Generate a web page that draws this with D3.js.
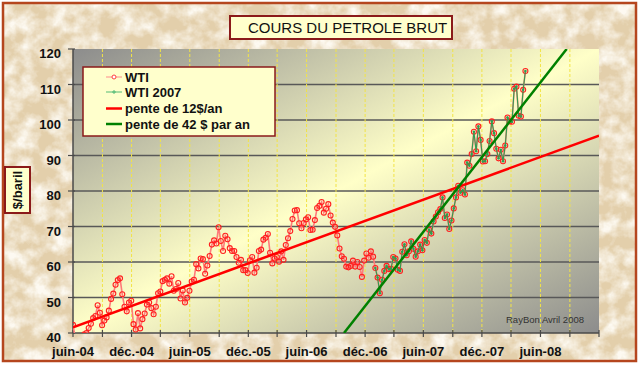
<!DOCTYPE html>
<html><head><meta charset="utf-8">
<script src="https://cdn.jsdelivr.net/npm/d3@7"></script>
<style>
body{margin:0;background:#fff;}
svg{display:block;}
text{font-family:"Liberation Sans",Arial,sans-serif;}
</style>
</head><body>
<svg id="chart" width="640" height="366"></svg>
<script>
// ---------------- DATA ----------------
const title = "COURS DU PETROLE BRUT";
const yAxisTitle = "$/baril";
const credit = "RayBon Avril 2008";
// WTI weekly readings (every Tuesday, starting 2004-06-01), $/baril
const wtiStart = "2004-06-01";
const wti2004 = [42.3,38.5,37.6,38.0,36.9, 39.6,40.0,41.4,42.6, 44.2,44.8,47.8,45.7,42.2,
  43.5,44.4,46.3,49.6, 51.1,53.6,54.9,55.4, 50.9,47.4,46.1,48.6,49.1, 42.5,41.0,45.6,41.3];
const wti2005 = [43.9,45.5,48.0,48.6, 47.0,45.3,47.4,51.2, 51.7,54.6,55.0,55.4,53.9,
  56.0,51.9,52.4,54.1, 49.7,52.0,48.6,49.9,51.9, 54.5,55.0,59.4,58.2, 61.0,60.8,56.7,59.0,
  61.7,64.9,66.1,65.2,69.8, 65.9,63.1,67.4,66.4, 63.9,63.1,63.1,61.4, 59.8,60.6,57.7,57.7,56.9,
  60.5,61.4,57.0,58.4];
const wti2006 = [63.1,63.5,66.3,66.8,67.9, 62.6,59.6,61.0,61.4, 60.1,63.0,60.6,64.8,
  66.7,68.7,72.1,74.5, 74.6,70.9,69.5,71.0,72.0, 72.6,69.0,69.1,71.8, 75.2,75.8,76.9,73.9,
  75.0,76.3,73.1,71.1,69.9, 67.5,63.8,61.6,60.9, 58.7,58.5,58.9,60.4,58.7, 60.0,58.6,55.8,60.4,
  62.4,61.2,63.0,61.5];
const wti2007 = [58.3,55.6,51.2,55.0,57.5, 58.9,58.0,58.1,61.4, 61.0,57.8,57.5,62.9,
  65.0,61.9,63.0,65.8, 63.7,61.5,63.0,64.9,63.3, 66.2,65.4,69.1,68.0, 71.4,72.8,74.0,74.9,78.2,
  72.4,73.4,69.3,71.7, 75.1,78.2,81.5,79.5, 80.2,79.0,88.0,87.1,90.4, 96.7,91.2,98.2,94.4,
  88.3,88.4,90.4,94.1];
const wti2008 = [99.6,96.3,91.9,89.2,91.6, 88.4,92.8,100.7,99.6, 99.5,108.8,109.4,101.2,
  101.0,108.5,113.8];
const wti2007SeriesStart = "2007-01-01";
// trend lines
const trend12Dates = ["2004-06-01","2008-12-01"], trend12Values = [41.6,95.6];
const trend42Dates = ["2006-09-26","2008-08-22"], trend42Values = [40,120];
// axes
const xDomain = ["2004-06-01","2008-12-01"];
const yTicks = [40,50,60,70,80,90,100,110,120];
const xTickLabels = ["juin-04","déc.-04","juin-05","déc.-05","juin-06","déc.-06","juin-07","déc.-07","juin-08"];
const legendLabels = ["WTI","WTI 2007","pente de 12$/an","pente de 42 $ par an"];

// ---------------- BUILD ----------------
const parse = d3.timeParse("%Y-%m-%d");
const svg = d3.select("#chart");
const P = {l:73, r:599, t:49, b:333};
const x = d3.scaleTime().domain(xDomain.map(parse)).range([P.l,P.r]);
const y = d3.scaleLinear().domain([40,120]).range([P.b,P.t]);

const allVals = [...wti2004,...wti2005,...wti2006,...wti2007,...wti2008];
const s0 = parse(wtiStart);
const wti = allVals.map((v,i)=>({d:d3.timeDay.offset(s0,7*i), v}));
const wti07 = wti.filter(p=>p.d>=parse(wti2007SeriesStart));

const defs = svg.append("defs");
// paper texture
const f = defs.append("filter").attr("id","paper").attr("x",0).attr("y",0).attr("width","100%").attr("height","100%");
f.append("feTurbulence").attr("type","fractalNoise").attr("baseFrequency","0.06").attr("numOctaves",4).attr("seed",11);
f.append("feColorMatrix").attr("type","matrix")
 .attr("values","0 0 0 0 0.98  0 0 0 0 0.95  0 0 0 0 0.88  2.2 0 0 0 -0.75");
const g = defs.append("linearGradient").attr("id","plotbg").attr("x1",0).attr("y1",0).attr("x2",1).attr("y2",1);
g.append("stop").attr("offset","0").attr("stop-color","#8c8c8c");
g.append("stop").attr("offset","0.5").attr("stop-color","#ffffc8");
g.append("stop").attr("offset","1").attr("stop-color","#8c8c8c");
defs.append("clipPath").attr("id","clip").append("rect")
  .attr("x",P.l).attr("y",P.t).attr("width",P.r-P.l).attr("height",P.b-P.t);

// background
svg.append("rect").attr("width",640).attr("height",366).attr("fill","#ffffff");
svg.append("rect").attr("x",3).attr("y",3).attr("width",633).attr("height",358).attr("fill","#e3cfab");
svg.append("rect").attr("x",3).attr("y",3).attr("width",633).attr("height",358).attr("filter","url(#paper)");
svg.append("rect").attr("x",3).attr("y",3).attr("width",633).attr("height",358)
  .attr("fill","none").attr("stroke","#b5461e").attr("stroke-width",2.5);

// plot area
svg.append("rect").attr("x",P.l).attr("y",P.t).attr("width",P.r-P.l).attr("height",P.b-P.t).attr("fill","url(#plotbg)");

// horizontal gridlines
svg.append("g").selectAll("line").data(yTicks.filter(v=>v>40&&v<120)).join("line")
  .attr("x1",P.l).attr("x2",P.r).attr("y1",d=>y(d)).attr("y2",d=>y(d))
  .attr("stroke","#585858").attr("stroke-width",1.6);

// x ticks dates
const tickDates = d3.timeMonth.range(parse(xDomain[0]), d3.timeDay.offset(parse(xDomain[1]),1), 3);
svg.append("g").selectAll("line").data(tickDates.slice(1,-1)).join("line")
  .attr("x1",d=>x(d)).attr("x2",d=>x(d)).attr("y1",P.t).attr("y2",P.b)
  .attr("stroke","#f2e446").attr("stroke-width",1).attr("stroke-dasharray","3,2");

// axes
const axisCol = "#4a4a4a";
svg.append("line").attr("x1",P.l).attr("x2",P.l).attr("y1",P.t).attr("y2",P.b).attr("stroke",axisCol).attr("stroke-width",1.5);
svg.append("line").attr("x1",P.l).attr("x2",P.r).attr("y1",P.b).attr("y2",P.b).attr("stroke",axisCol).attr("stroke-width",1.5);
svg.append("g").selectAll("line").data(yTicks).join("line")
  .attr("x1",P.l-5).attr("x2",P.l+2).attr("y1",d=>y(d)).attr("y2",d=>y(d)).attr("stroke",axisCol).attr("stroke-width",1.2);
svg.append("g").selectAll("text").data(yTicks).join("text")
  .attr("x",P.l-12).attr("y",d=>y(d)+9).attr("text-anchor","end")
  .attr("font-size",13).attr("font-weight","bold").attr("fill","#111").text(d=>d);
svg.append("g").selectAll("line").data(tickDates).join("line")
  .attr("x1",d=>x(d)).attr("x2",d=>x(d)).attr("y1",P.b-3).attr("y2",P.b+4).attr("stroke",axisCol).attr("stroke-width",1.2);
svg.append("g").selectAll("text").data(xTickLabels).join("text")
  .attr("x",(d,i)=>x(tickDates[2*i])).attr("y",356).attr("text-anchor","middle")
  .attr("font-size",13).attr("font-weight","bold").attr("fill","#111").text(d=>d);

// series
const plot = svg.append("g").attr("clip-path","url(#clip)");
const line = d3.line().x(d=>x(d.d)).y(d=>y(d.v));
plot.append("path").datum(wti).attr("d",line).attr("fill","none").attr("stroke","#ff7a7a").attr("stroke-width",1.6);
plot.append("g").selectAll("circle").data(wti).join("circle")
  .attr("cx",d=>x(d.d)).attr("cy",d=>y(d.v)).attr("r",2.5)
  .attr("fill","none").attr("stroke","#ff2020").attr("stroke-width",1.1);
plot.append("path").datum(wti07).attr("d",line).attr("fill","none").attr("stroke","#2f9e50").attr("stroke-width",1.1);
plot.append("g").selectAll("circle").data(wti07).join("circle")
  .attr("cx",d=>x(d.d)).attr("cy",d=>y(d.v)).attr("r",1.3).attr("fill","#2f9e50");

const t12 = trend12Dates.map((d,i)=>({d:parse(d),v:trend12Values[i]}));
const t42 = trend42Dates.map((d,i)=>({d:parse(d),v:trend42Values[i]}));
plot.append("path").datum(t12).attr("d",line).attr("stroke","#ff0000").attr("stroke-width",2.5).attr("fill","none");
plot.append("path").datum(t42).attr("d",line).attr("stroke","#008000").attr("stroke-width",2.5).attr("fill","none");

svg.append("text").attr("x",584).attr("y",323).attr("text-anchor","end").attr("font-size",9.5)
  .attr("fill","#333").text(credit);

// legend
const lg = svg.append("g");
lg.append("rect").attr("x",83).attr("y",67).attr("width",192).attr("height",69)
  .attr("fill","#ffffcc").attr("stroke","#8b1a1a").attr("stroke-width",1.5);
const rows = [77,92,108.5,124];
const lstyles = [
  {c:"#ff8c8c",w:1},{c:"#55bb77",w:1},{c:"#ff0000",w:2.5},{c:"#008000",w:2.5}];
legendLabels.forEach((lab,i)=>{
  lg.append("line").attr("x1",106).attr("x2",122).attr("y1",rows[i]).attr("y2",rows[i])
    .attr("stroke",lstyles[i].c).attr("stroke-width",lstyles[i].w);
  lg.append("text").attr("x",125).attr("y",rows[i]+4.5).attr("font-size",13).attr("font-weight","bold")
    .attr("fill","#111").text(lab);
});
lg.append("circle").attr("cx",114).attr("cy",rows[0]).attr("r",2).attr("fill","#fff").attr("stroke","#ff4040").attr("stroke-width",1);
lg.append("path").attr("d",`M112,${rows[1]}h4M114,${rows[1]-2}v4`).attr("stroke","#55bb77").attr("stroke-width",1);

// title box
svg.append("rect").attr("x",230).attr("y",16).attr("width",222).attr("height",23)
  .attr("fill","#ffffcc").attr("stroke","#8b1a1a").attr("stroke-width",2);
svg.append("text").attr("x",248).attr("y",33).attr("font-size",15).attr("fill","#111").text(title);

// y title box
svg.append("rect").attr("x",5).attr("y",167).attr("width",25).attr("height",46)
  .attr("fill","#ffffcc").attr("stroke","#8b1a1a").attr("stroke-width",2);
svg.append("text").attr("transform","translate(22,190) rotate(-90)").attr("text-anchor","middle")
  .attr("font-size",13).attr("font-weight","bold").attr("fill","#111").text(yAxisTitle);
</script>
</body></html>
